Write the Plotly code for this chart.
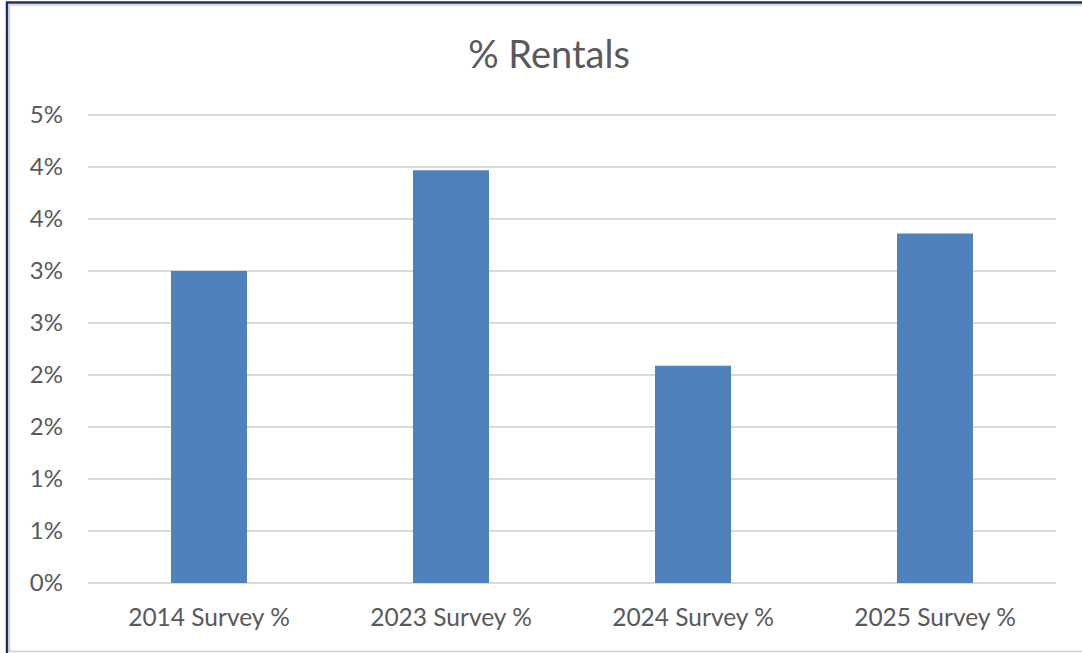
import plotly.graph_objects as go

# Survey categories and share of rentals (fraction)
categories = ["2014 Survey %", "2023 Survey %", "2024 Survey %", "2025 Survey %"]
rental_share = [0.0300, 0.0397, 0.0209, 0.0336]

# Value axis ticks (labels rounded to whole percent)
tick_values = [0.0, 0.005, 0.010, 0.015, 0.020, 0.025, 0.030, 0.035, 0.040, 0.045]
tick_labels = ["0%", "1%", "1%", "2%", "2%", "3%", "3%", "4%", "4%", "5%"]

W, H = 1082, 653
ML, MR, MT, MB = 88, 26, 114, 70
PW, PH = W - ML - MR, H - MT - MB
Y_MAX = 0.04510


def px_x(px):
    return (px - ML) / PW


def px_y(py):
    return (H - MB - py) / PH


text_color = "#595959"
font_family = "Lato, Carlito, 'Open Sans', sans-serif"

fig = go.Figure(
    go.Bar(
        x=categories,
        y=rental_share,
        marker=dict(color="#4F81BD", line=dict(width=0)),
        width=0.314,
        hoverinfo="x+y",
    )
)

shapes = [
    # outer navy frame
    dict(type="line", xref="paper", yref="paper",
         x0=px_x(7), x1=px_x(7), y0=px_y(2), y1=px_y(660),
         line=dict(color="#1B2F6B", width=2.5)),
    dict(type="line", xref="paper", yref="paper",
         x0=px_x(6), x1=px_x(1090), y0=px_y(2.5), y1=px_y(2.5),
         line=dict(color="#1B2F6B", width=2.5)),
    # inner chart-area border
    dict(type="line", xref="paper", yref="paper",
         x0=px_x(9.5), x1=px_x(9.5), y0=px_y(5), y1=px_y(652),
         line=dict(color="#D0D0D0", width=1.5)),
    dict(type="line", xref="paper", yref="paper",
         x0=px_x(9.5), x1=px_x(1090), y0=px_y(5), y1=px_y(5),
         line=dict(color="#D0D0D0", width=1.5)),
    dict(type="line", xref="paper", yref="paper",
         x0=px_x(9.5), x1=px_x(1090), y0=px_y(651.5), y1=px_y(651.5),
         line=dict(color="#D0D0D0", width=1.5)),
]

fig.update_layout(
    width=W,
    height=H,
    margin=dict(l=ML, r=MR, t=MT, b=MB),
    paper_bgcolor="white",
    plot_bgcolor="white",
    showlegend=False,
    bargap=0.686,
    font=dict(family=font_family, color=text_color),
    title=dict(
        text="% Rentals",
        x=549 / W,
        xanchor="center",
        xref="container",
        y=1 - 55 / H,
        yanchor="middle",
        font=dict(size=38, color=text_color, family=font_family),
    ),
    shapes=shapes,
    xaxis=dict(
        showgrid=False,
        showline=False,
        zeroline=False,
        ticks="",
        tickfont=dict(size=24.5, color=text_color),
        ticklabelstandoff=17,
    ),
    yaxis=dict(
        range=[0, Y_MAX],
        tickvals=tick_values,
        ticktext=tick_labels,
        showgrid=True,
        gridcolor="#D9D9D9",
        gridwidth=1.5,
        zeroline=True,
        zerolinecolor="#D9D9D9",
        zerolinewidth=1.5,
        showline=False,
        ticks="",
        tickfont=dict(size=24, color=text_color),
        ticklabelstandoff=24,
    ),
)

fig.write_html("out.html")
